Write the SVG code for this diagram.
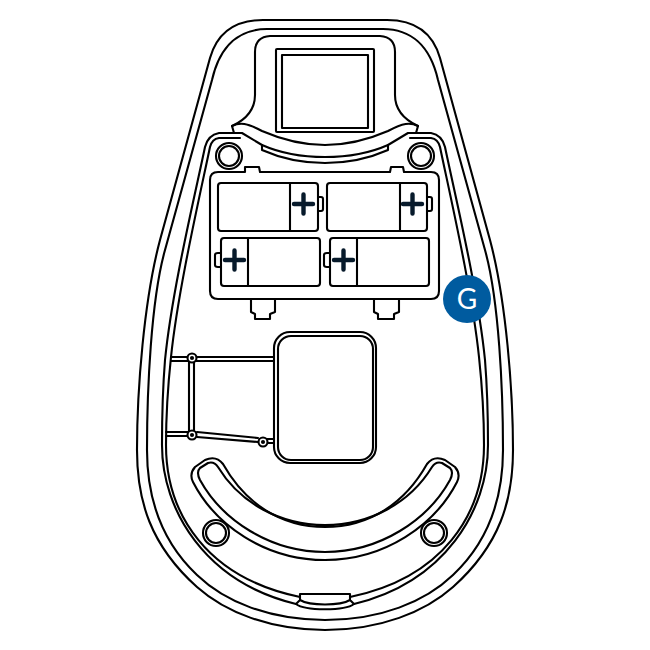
<svg xmlns="http://www.w3.org/2000/svg" xmlns:xlink="http://www.w3.org/1999/xlink" width="650" height="650" viewBox="0 0 650 650">
<style>
.l{fill:none;stroke:#000;stroke-width:2.1;stroke-linejoin:round;stroke-linecap:round}
.w{fill:#fff}
.p{fill:none;stroke:#071a2b;stroke-width:4.4}
</style>
<defs>
<g id="half" class="l">
<path d="M325 20H263C238 20 218 30 210 58L160 240C144 300 137 390 137 450C137 500 150 545 197 587C225 612 270 630 325 630"/>
<path d="M325 29H267C240 29 220 45 212 80L165 250C151 300 147 390 147 450C147 495 160 540 197 575C225 602 270 620 325 620"/>
<path d="M234 133H219Q208 135 205 147C195 195 172 290 165 360C163 385 162 415 162 445C162 510 205 582 296 604"/>
<path d="M240 138H219Q212 139 210 147C200 195 178 290 171 357C168 385 166 415 166 445C166 515 208 578 300 597"/>
<path d="M325 36H270Q255 37 255 52V95C255 110 245 120 232 126L234 133H242L262 145V150C280 158 300 163 325 163"/>
<path d="M232 126C240 122 247 123 262 131C285 141 305 145 325 145"/>
<path d="M262 145C280 153 300 157 325 157"/>
<circle cx="229" cy="156" r="13"/><circle cx="229" cy="156" r="10"/>
<circle cx="216" cy="533" r="13"/><circle cx="216" cy="533" r="10"/>
<path d="M325 560C265 560 215 525 193 482Q189 474 195 467L205 460Q216 455 223 464C245 503 280 527 325 527"/>
<path d="M325 552C270 552 222 520 200 480Q196 472 200 468L208 463Q214 461 218 467C240 503 280 525 325 525"/>
</g>
</defs>
<use xlink:href="#half" href="#half"/>
<use xlink:href="#half" href="#half" transform="matrix(-1 0 0 1 650 0)"/>
<g id="window" class="l">
<rect x="276" y="49" width="98" height="83" rx="1"/>
<rect x="282" y="55" width="86" height="73"/>
</g>
<g id="tray" class="l">
<path d="M218 172H245V167H259L260 172H390L391 167H403L404 172H431Q439 172 439 180V291Q439 299 431 299H218Q210 299 210 291V180Q210 172 218 172Z"/>
<path d="M251 299V312L255 314V319H270V314L275 312V299M374 299V312L378 314V319H394V314L399 312V299"/>
</g>
<g id="battery-1" class="l">
<rect x="218" y="183" width="100" height="48" rx="3"/><path d="M290 183V231M318 197H321Q323 197 323 199V209Q323 211 321 211H318"/>
<path class="p" d="M294 204H313M303.500 194.500V213.500"/>
</g>
<g id="battery-2" class="l">
<rect x="327" y="183" width="100" height="48" rx="3"/><path d="M400 183V231M427 197H430Q432 197 432 199V209Q432 211 430 211H427"/>
<path class="p" d="M403 204H422M412.500 194.500V213.500"/>
</g>
<g id="battery-3" class="l">
<rect x="221" y="238" width="99" height="48" rx="3"/><path d="M248 238V286M221 253H218Q215 253 215 255V265Q215 267 218 267H221"/>
<path class="p" d="M225 260H244M234.500 250.500V269.500"/>
</g>
<g id="battery-4" class="l">
<rect x="330" y="238" width="99" height="48" rx="3"/><path d="M357 238V286M330 253H327Q324 253 324 255V265Q324 267 327 267H330"/>
<path class="p" d="M334 260H353M343.500 250.500V269.500"/>
</g>
<g id="cartridge" class="l">
<rect x="274" y="332" width="102" height="131" rx="16"/>
<rect x="278" y="336" width="95" height="124" rx="13"/>
<path d="M171 357H274M171 361H274M189 358V435M194 358V435M166 432H192M166 436H192M197 432L258 438M197 437L258 442M267 439H274M267 443H274"/>
<g class="w"><circle cx="192" cy="358" r="4.500"/><circle cx="192" cy="435" r="4.500"/><circle cx="263" cy="442" r="4.500"/></g>
<circle cx="192" cy="358" r="1"/><circle cx="192" cy="435" r="1"/><circle cx="263" cy="442" r="1"/>
</g>
<g id="clip" class="l">
<path class="w" d="M296 604L300 600V594H350V600L354 604C345 611 305 611 296 604Z"/>
<path d="M300 600C310 606 340 606 350 600"/>
</g>
<g id="label-G">
<circle cx="467" cy="299" r="24" fill="#005b9f"/>
<text x="467" y="309" text-anchor="middle" font-family="Lato, 'Open Sans', sans-serif" font-size="28" fill="#fff">G</text>
</g>
</svg>
